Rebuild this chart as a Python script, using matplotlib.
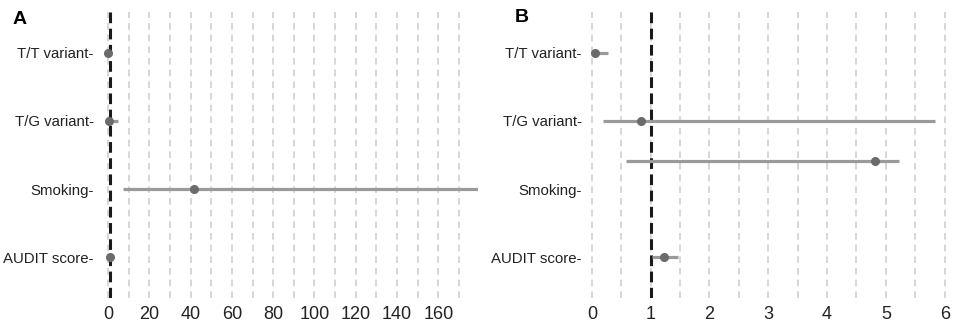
import matplotlib
matplotlib.use("Agg")
import matplotlib.pyplot as plt
import numpy as np

plt.rcParams['font.family'] = ['Liberation Sans', 'DejaVu Sans']

labels = ['T/T variant', 'T/G variant', 'Smoking', 'AUDIT score']

# panel A odds ratios and confidence limits
or_a = [0.05, 0.3, 41.7, 1.05]
lo_a = [0.01, 0.1, 7.3, 1.0]
hi_a = [0.27, 4.7, 250.0, 1.1]

# panel B
or_b = [0.05, 0.84, 4.81, 1.22]
lo_b = [0.01, 0.19, 0.58, 1.03]
hi_b = [0.27, 5.83, 5.22, 1.46]
shift_b = [0.0, 0.0, 0.41, 0.0]

point_col = '#6b6b6b'
line_col = '#9a9a9a'
grid_col = '#cfcfcf'


def forest(ax, est, lo, hi, shift, xlim, major, minor):
    ypos = np.arange(len(labels), 0, -1).astype(float)
    yline = ypos + np.array(shift)
    for g in np.arange(0, xlim[1] + 1e-9, minor):
        ax.axvline(g, color=grid_col, lw=1.2, ls=(0, (4, 3)), zorder=0)
    ax.axvline(1, color='#1a1a1a', lw=2.2, ls=(0, (3.5, 1.8)), zorder=1)
    ax.hlines(yline, lo, hi, color=line_col, lw=2.3, zorder=2)
    ax.plot(est, yline, 'o', color=point_col, ms=5.5, zorder=3)
    ax.set_xlim(*xlim)
    ax.set_ylim(0.4, 4.6)
    ax.set_xticks(np.arange(0, xlim[1] + 1e-9, major))
    ax.set_yticks(ypos)
    ax.set_yticklabels([l + '-' for l in labels], fontsize=10.8, color='#222222')
    ax.tick_params(axis='x', labelsize=13, length=0, pad=6, labelcolor='#222222')
    ax.tick_params(axis='y', length=0, pad=1)
    for s in ax.spines.values():
        s.set_visible(False)
    return ax


fig = plt.figure(figsize=(9.55, 3.28), dpi=100)
ax_a = fig.add_axes([95 / 955, 30 / 328, 383 / 955, 286 / 328])
ax_b = fig.add_axes([583 / 955, 30 / 328, 367 / 955, 286 / 328])

forest(ax_a, or_a, lo_a, hi_a, [0, 0, 0, 0], (-6.3, 179.2), 20, 10)
forest(ax_b, or_b, lo_b, hi_b, shift_b, (-0.15, 6.09), 1, 0.5)

fig.text(13 / 955, 1 - 20 / 328, 'A', fontsize=14, fontweight='bold', va='center')
fig.text(515 / 955, 1 - 18 / 328, 'B', fontsize=14, fontweight='bold', va='center')

fig.savefig('out.png', dpi=100)
